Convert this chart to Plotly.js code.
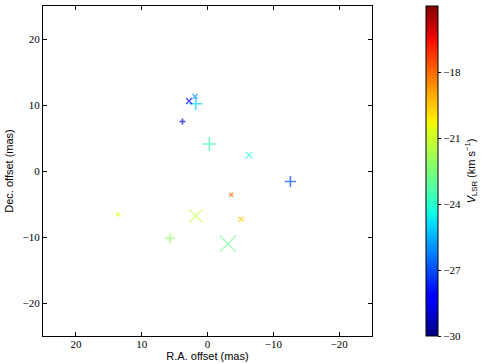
<!DOCTYPE html>
<html>
<head>
<meta charset="utf-8">
<script src="https://cdn.plot.ly/plotly-3.0.1.min.js"></script>
<style>html,body{margin:0;padding:0;background:#fff;}#chart{width:485px;height:364px;}</style>
</head>
<body>
<div id="chart"></div>
<script>
// Spots drawn with "+" markers
var crossRA   = [1.8, 3.8, -0.3, -12.6, 13.6, 5.7];
var crossDec  = [10.2, 7.5, 4.1, -1.6, -6.6, -10.2];
var crossVlsr = [-25.0, -28.7, -23.5, -27.0, -20.5, -22.0];
var crossFlux = [9.3, 4.3, 10.0, 7.9, 3.6, 7.1];

// Spots drawn with "x" markers
var xRA   = [2.8, 1.9, -6.3, -3.6, 1.8, -5.1, -3.1];
var xDec  = [10.6, 11.3, 2.4, -3.6, -6.8, -7.3, -11.0];
var xVlsr = [-28.2, -26.0, -24.4, -18.0, -21.3, -19.5, -22.8];
var xFlux = [6, 5, 7, 4, 13, 5, 16];

var cbTicks = [-30, -27, -24, -21, -18];

var jet = [
  [0, 'rgb(0,0,128)'], [0.11, 'rgb(0,0,255)'], [0.125, 'rgb(0,0,255)'],
  [0.34, 'rgb(0,219,255)'], [0.35, 'rgb(0,229,247)'], [0.375, 'rgb(20,255,226)'],
  [0.64, 'rgb(239,255,8)'], [0.65, 'rgb(247,245,0)'], [0.66, 'rgb(255,236,0)'],
  [0.89, 'rgb(255,19,0)'], [0.91, 'rgb(232,0,0)'], [1, 'rgb(128,0,0)']
];

var serif = {family: 'Liberation Serif, serif', size: 11, color: '#000'};
var sans = {family: 'Liberation Sans, Arial, sans-serif', size: 11, color: '#000'};

var tr1 = {
  x: crossRA, y: crossDec, type: 'scatter', mode: 'markers', hoverinfo: 'none',
  marker: {
    symbol: 'cross-thin', size: crossFlux, color: crossVlsr,
    colorscale: jet, cmin: -30, cmax: -15,
    line: {width: 1.6, color: crossVlsr, colorscale: jet, cmin: -30, cmax: -15},
    showscale: true,
    colorbar: {
      x: 1.163, xanchor: 'left', xpad: 0, ypad: 0, y: 0.5, yanchor: 'middle', len: 1,
      thickness: 12, outlinewidth: 1, outlinecolor: '#000',
      tickvals: cbTicks, ticks: 'outside', ticklen: 3, tickcolor: '#000',
      tickfont: serif,
      title: {text: '<i>V</i><sub>LSR</sub> (km s<sup>−1</sup>)', side: 'right', font: sans}
    }
  }
};
var tr2 = {
  x: xRA, y: xDec, type: 'scatter', mode: 'markers', hoverinfo: 'none',
  marker: {
    symbol: 'x-thin', size: xFlux, color: xVlsr,
    colorscale: jet, cmin: -30, cmax: -15,
    line: {width: 1.3, color: xVlsr, colorscale: jet, cmin: -30, cmax: -15},
    showscale: false
  }
};

var axisCommon = {
  showgrid: false, zeroline: false, showline: true, mirror: 'ticks',
  linecolor: '#000', linewidth: 1, ticks: 'inside', ticklen: 4, tickcolor: '#000',
  tickfont: serif, automargin: false
};

var layout = {
  width: 485, height: 364,
  margin: {l: 43, r: 111, t: 6, b: 28},
  paper_bgcolor: '#fff', plot_bgcolor: '#fff',
  showlegend: false,
  xaxis: Object.assign({}, axisCommon, {
    range: [25, -25], tickvals: [20, 10, 0, -10, -20], ticklabelstandoff: -2,
    title: {text: 'R.A. offset (mas)', font: sans, standoff: 0}
  }),
  yaxis: Object.assign({}, axisCommon, {
    range: [-25, 25], tickvals: [-20, -10, 0, 10, 20],
    title: {text: 'Dec. offset (mas)', font: sans, standoff: 6}
  })
};

Plotly.newPlot('chart', [tr1, tr2], layout, {displayModeBar: false, staticPlot: true});
</script>
</body>
</html>
